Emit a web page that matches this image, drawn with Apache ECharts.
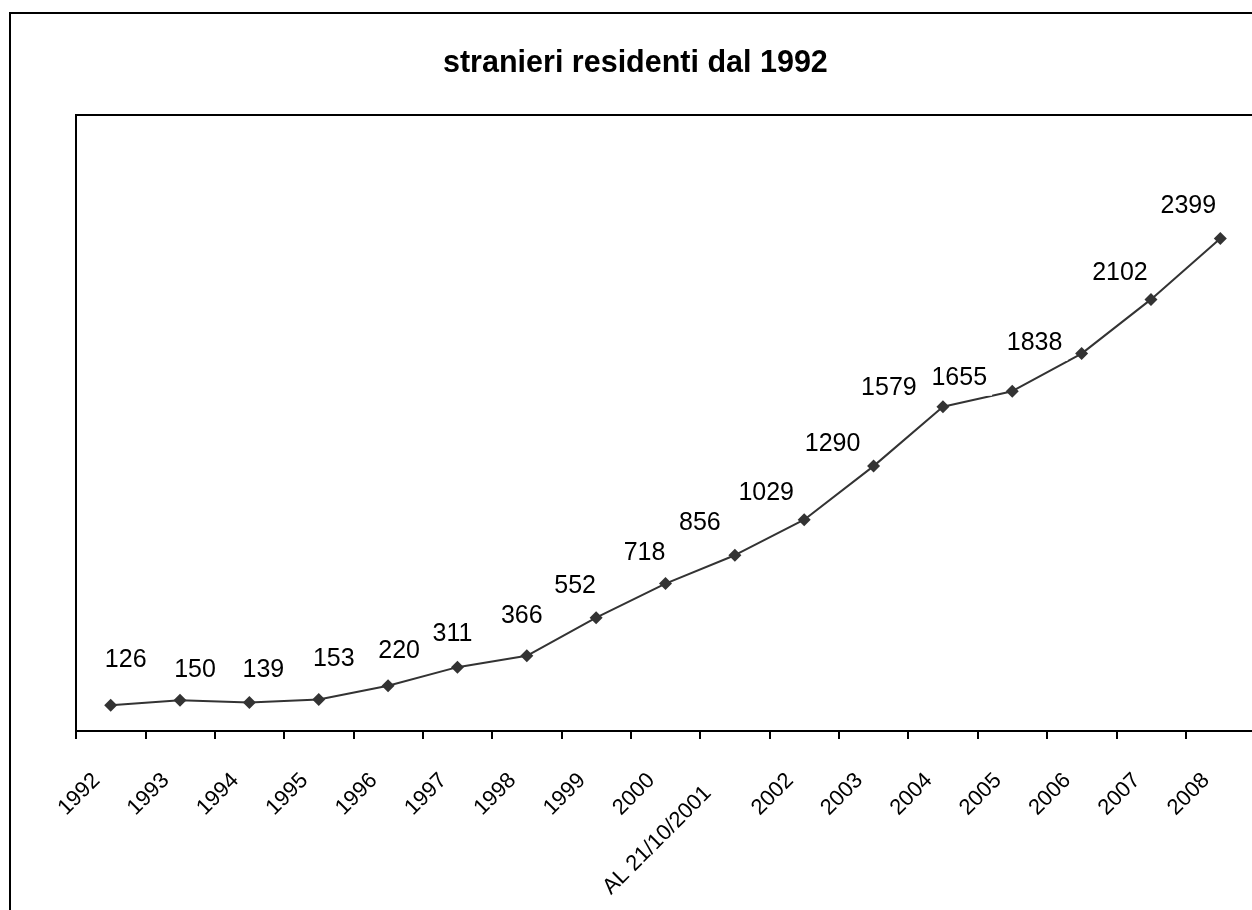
<!DOCTYPE html>
<html>
<head>
<meta charset="utf-8">
<title>stranieri residenti dal 1992</title>
<script src="https://cdn.jsdelivr.net/npm/echarts@6/dist/echarts.min.js"></script>
<style>
  html, body { margin: 0; padding: 0; background: #fff; }
  #chart { width: 1252px; height: 910px; }
</style>
</head>
<body>
<div id="chart"></div>
<script>
  // categorie (asse x)
  const years = ['1992', '1993', '1994', '1995', '1996', '1997', '1998', '1999', '2000',
    'AL 21/10/2001', '2002', '2003', '2004', '2005', '2006', '2007', '2008'];
  // stranieri residenti
  const residents = [126, 150, 139, 153, 220, 311, 366, 552, 718, 856, 1029, 1290, 1579, 1655, 1838, 2102, 2399];
  // spostamento etichette rispetto al punto (come nel grafico originale)
  const labelShift = [[15, -48], [15, -33], [14, -35], [15, -43], [11, -38], [-5, -36], [-5, -43],
    [-21, -35], [-21, -33], [-35, -35], [-38, -30], [-41, -25], [-54, -22], [-53, -16],
    [-47, -13], [-31, -29], [-32, -35]];

  const font = 'Liberation Sans, Arial, sans-serif';
  const chart = echarts.init(document.getElementById('chart'));

  const seriesData = residents.map((v, i) => ({
    value: v,
    label: { offset: [labelShift[i][0], labelShift[i][1] + 3] }
  }));

  const option = {
    backgroundColor: '#fff',
    animation: false,
    title: {
      text: 'stranieri residenti dal 1992',
      left: 438,
      top: 43,
      textStyle: { fontFamily: font, fontSize: 30.5, fontWeight: 'bold', color: '#000' }
    },
    graphic: [{
      type: 'rect',
      shape: { x: 10, y: 13, width: 1300, height: 1000 },
      style: { fill: 'none', stroke: '#000', lineWidth: 2 },
      silent: true
    }],
    grid: {
      left: 76, top: 115, width: 1179, bottom: 179,
      outerBoundsMode: 'none',
      show: true, borderColor: '#000', borderWidth: 2
    },
    xAxis: {
      type: 'category',
      data: years,
      boundaryGap: true,
      axisLine: { show: true, lineStyle: { color: '#000', width: 2 } },
      axisTick: { show: true, length: 8, lineStyle: { color: '#000', width: 2 } },
      axisLabel: {
        rotate: 45,
        margin: 32,
        padding: [0, 6, 0, 0],
        interval: 0,
        hideOverlap: false,
        formatter: (v) => '{t|' + v + '}{' + (v.indexOf('AL') === 0 ? 'w' : 's') + '| }',
        rich: {
          t: { fontFamily: font, fontSize: 22, color: '#000' },
          s: { width: 14 },
          w: { width: 32 }
        }
      }
    },
    yAxis: {
      type: 'value',
      min: 0,
      max: 3000,
      show: false,
      splitLine: { show: false }
    },
    series: [{
      type: 'line',
      data: seriesData,
      symbol: 'diamond',
      symbolSize: 13,
      itemStyle: { color: '#333' },
      lineStyle: { color: '#333', width: 2 },
      label: {
        show: true,
        position: 'inside',
        fontFamily: font,
        fontSize: 25,
        color: '#000',
        backgroundColor: '#fff',
        padding: [2, 5, 8, 5]
      }
    }]
  };

  chart.setOption(option);
</script>
</body>
</html>
